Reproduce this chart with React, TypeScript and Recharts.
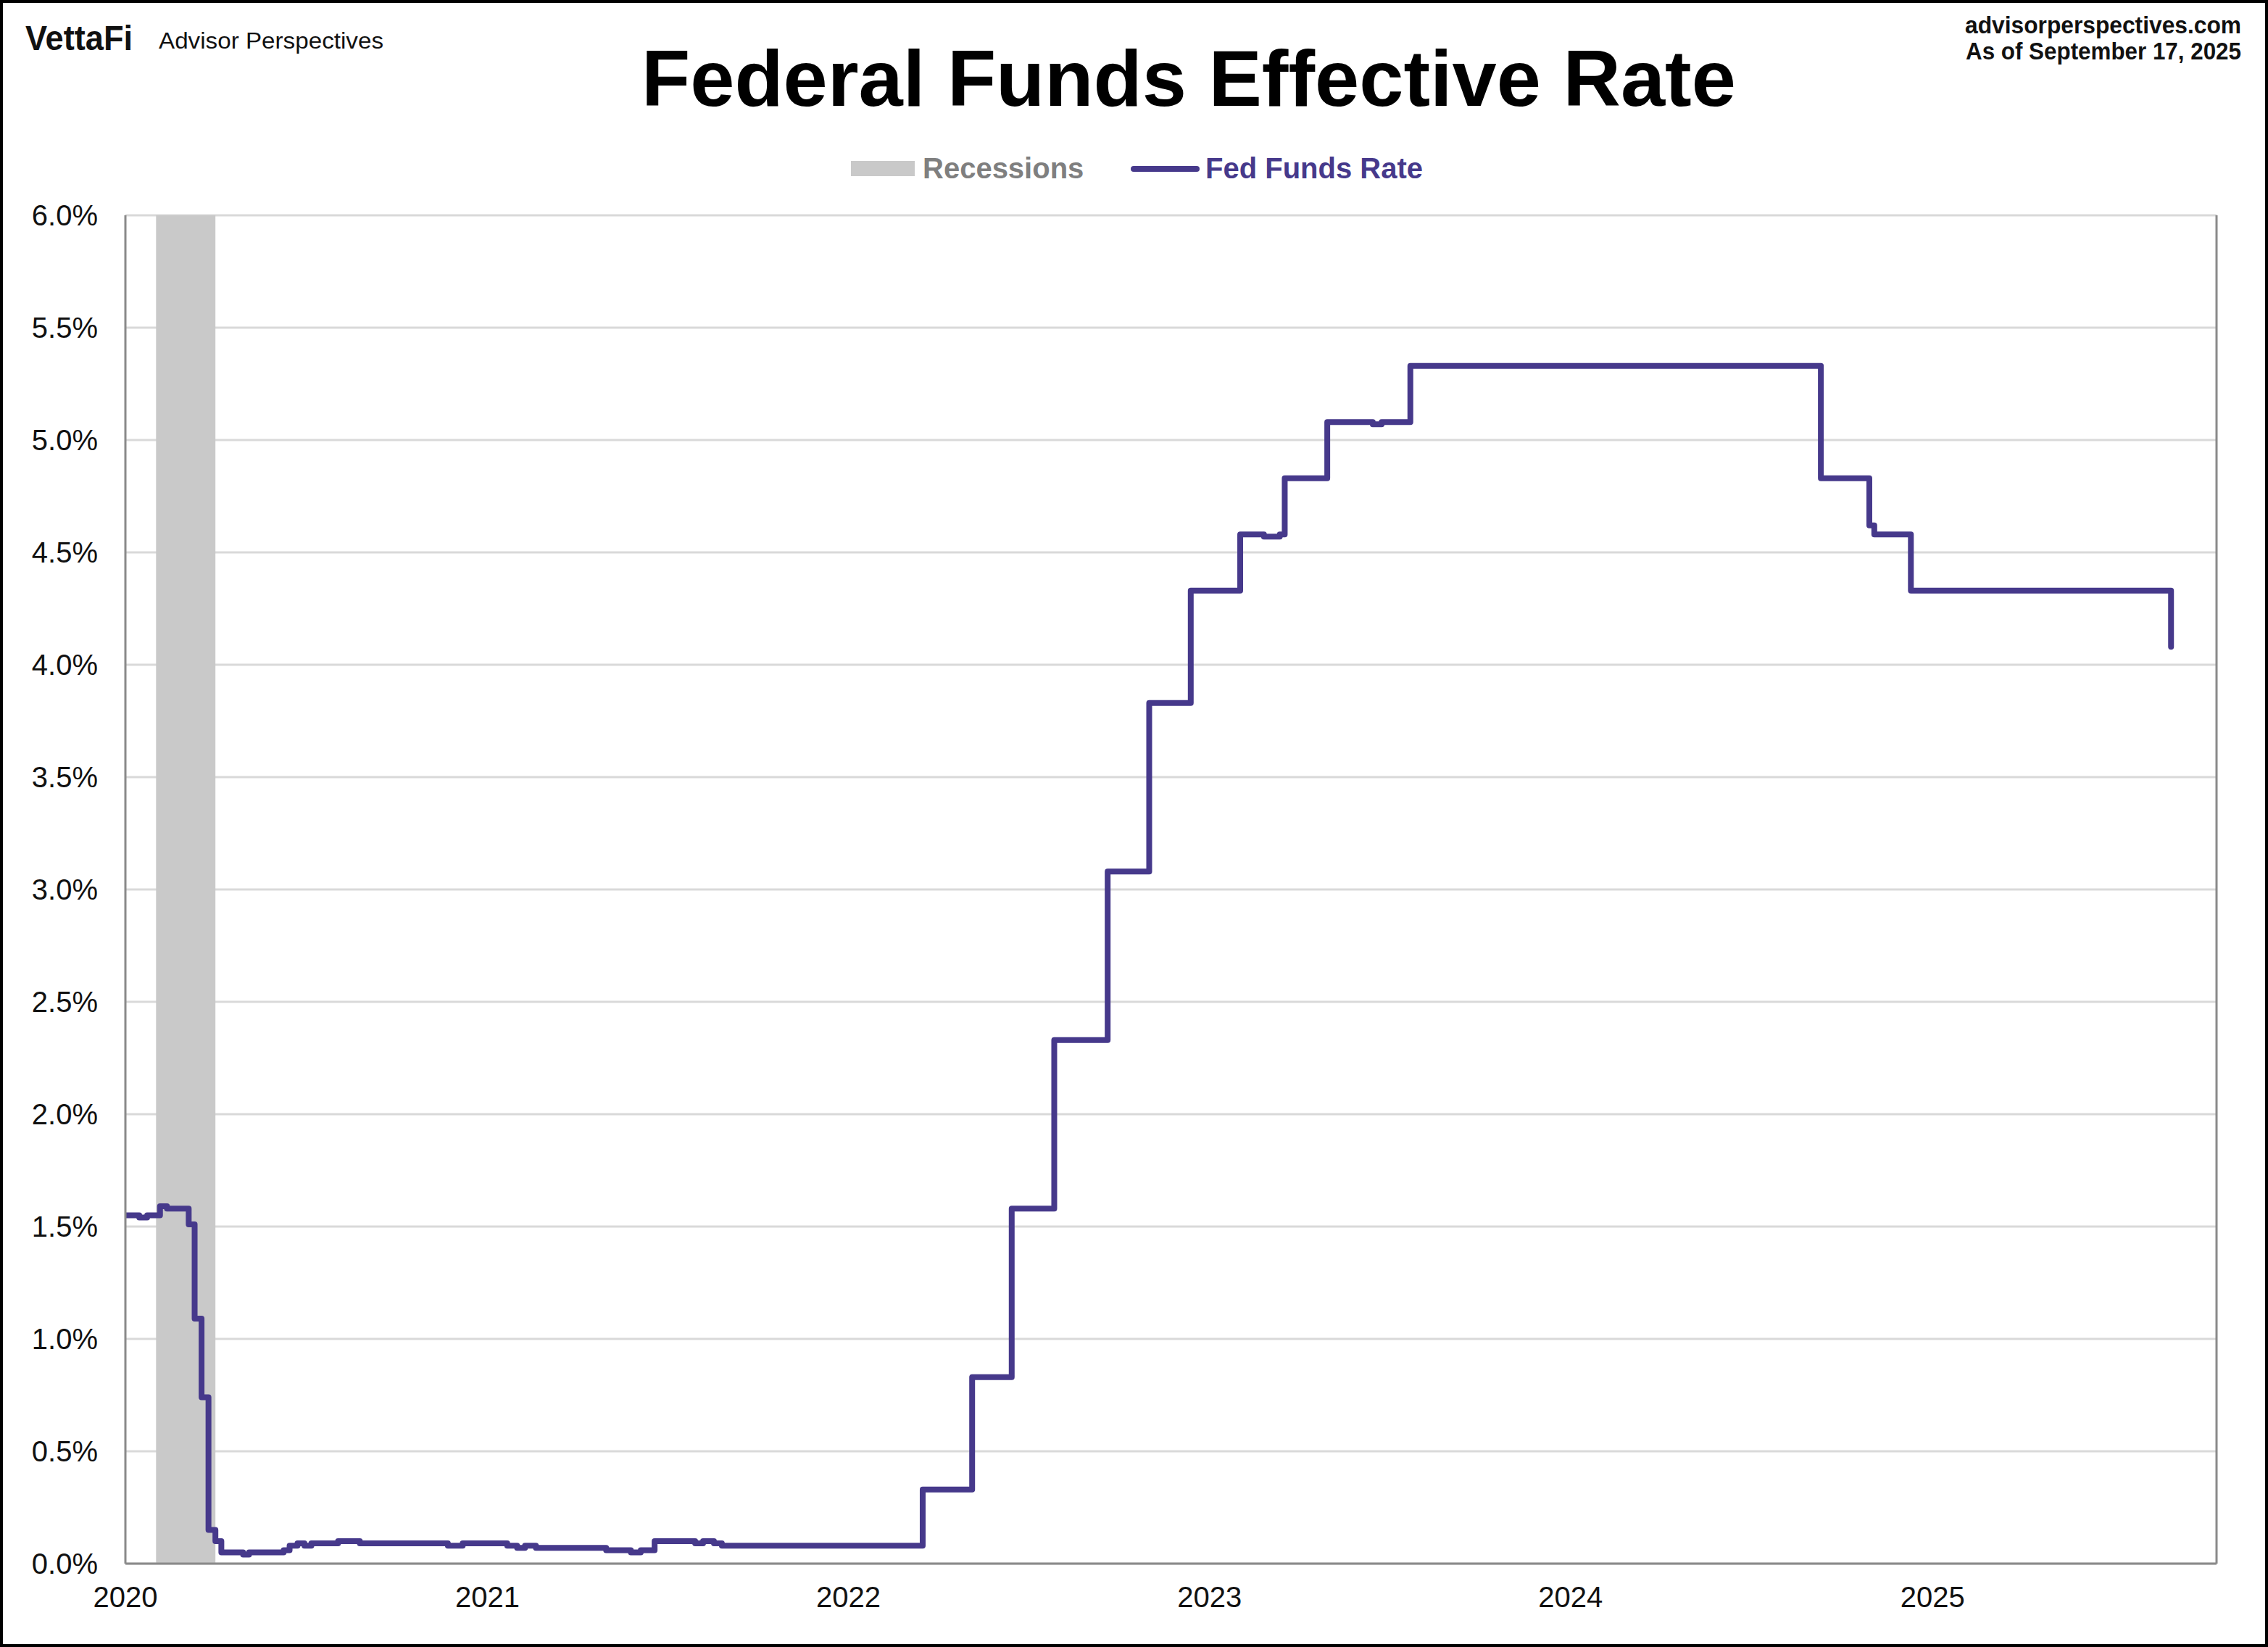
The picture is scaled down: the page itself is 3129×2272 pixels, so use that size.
import React from "react";
import {
  CartesianGrid,
  ComposedChart,
  Line,
  ReferenceArea,
  ReferenceLine,
  XAxis,
  YAxis,
} from "recharts";

const FONT = "'Liberation Sans', Arial, Helvetica, sans-serif";
const PURPLE = "#46398b";
const AXIS_GRAY = "#8a8a8a";
const GRID_GRAY = "#d9d9d9";
const BAND_GRAY = "#c9c9c9";

const WIDTH = 3129;
const HEIGHT = 2272;

// weekly-ish readings of the effective rate, [start date, rate %]
const rates2020: [string, number][] = [
  ["2020-01-01", 1.55],
  ["2020-01-15", 1.54],
  ["2020-01-23", 1.55],
  ["2020-02-05", 1.59],
  ["2020-02-12", 1.58],
  ["2020-03-05", 1.51],
  ["2020-03-11", 1.09],
  ["2020-03-18", 0.74],
  ["2020-03-25", 0.15],
  ["2020-04-01", 0.1],
  ["2020-04-07", 0.05],
  ["2020-04-29", 0.04],
  ["2020-05-05", 0.05],
  ["2020-06-09", 0.06],
  ["2020-06-15", 0.08],
  ["2020-06-23", 0.09],
  ["2020-06-30", 0.08],
  ["2020-07-07", 0.09],
  ["2020-08-03", 0.1],
  ["2020-08-25", 0.09],
  ["2020-11-22", 0.08],
  ["2020-12-07", 0.09],
];

const rates2021: [string, number][] = [
  ["2021-01-21", 0.08],
  ["2021-01-31", 0.07],
  ["2021-02-08", 0.08],
  ["2021-02-19", 0.07],
  ["2021-05-01", 0.06],
  ["2021-05-26", 0.05],
  ["2021-06-05", 0.06],
  ["2021-06-19", 0.1],
  ["2021-07-30", 0.09],
  ["2021-08-07", 0.1],
  ["2021-08-18", 0.09],
  ["2021-08-26", 0.08],
];

const rates2022: [string, number][] = [
  ["2022-03-17", 0.33],
  ["2022-05-06", 0.83],
  ["2022-06-15", 1.58],
  ["2022-07-28", 2.33],
  ["2022-09-20", 3.08],
  ["2022-11-01", 3.83],
  ["2022-12-13", 4.33],
];

const rates2023: [string, number][] = [
  ["2023-02-01", 4.58],
  ["2023-02-25", 4.57],
  ["2023-03-13", 4.58],
  ["2023-03-18", 4.83],
  ["2023-04-30", 5.08],
  ["2023-06-15", 5.07],
  ["2023-06-24", 5.08],
  ["2023-07-23", 5.33],
];

const rates2024: [string, number][] = [
  ["2024-09-10", 4.83],
  ["2024-10-29", 4.62],
  ["2024-11-03", 4.58],
  ["2024-12-10", 4.33],
];

const rates2025: [string, number][] = [["2025-08-30", 4.08]];

const recession = { start: "2020-02-01", end: "2020-04-01" };
const xStart = "2020-01-01";
const xEnd = "2025-10-15";
const yearTicks = ["2020-01-01", "2021-01-01", "2022-01-01", "2023-01-01", "2024-01-01", "2025-01-01"];
const rateTicks = [0, 0.5, 1, 1.5, 2, 2.5, 3, 3.5, 4, 4.5, 5, 5.5, 6];

function ts(date: string) {
  return Date.parse(`${date}T00:00:00Z`);
}

const chartData = [...rates2020, ...rates2021, ...rates2022, ...rates2023, ...rates2024, ...rates2025].map(
  ([date, rate]) => ({ t: ts(date), rate }),
);

function Header() {
  return (
    <svg
      width={WIDTH}
      height={HEIGHT}
      style={{ position: "absolute", left: 0, top: 0, pointerEvents: "none" }}
    >
      <rect x={2} y={2} width={WIDTH - 4} height={HEIGHT - 4} fill="none" stroke="#000" strokeWidth={4} />
      <text x={35} y={69} fontFamily={FONT} fontWeight={700} fontSize={48} textLength={148} lengthAdjust="spacingAndGlyphs" fill="#111">
        VettaFi
      </text>
      <text x={219} y={67} fontFamily={FONT} fontSize={32} textLength={310} lengthAdjust="spacingAndGlyphs" fill="#111">
        Advisor Perspectives
      </text>
      <text x={1640} y={146} textAnchor="middle" fontFamily={FONT} fontWeight={700} fontSize={110} fill="#000">
        Federal Funds Effective Rate
      </text>
      <text x={3092} y={46} textAnchor="end" fontFamily={FONT} fontWeight={700} fontSize={33} textLength={381} lengthAdjust="spacingAndGlyphs" fill="#111">
        advisorperspectives.com
      </text>
      <text x={3092} y={82} textAnchor="end" fontFamily={FONT} fontWeight={700} fontSize={33} textLength={380} lengthAdjust="spacingAndGlyphs" fill="#111">
        As of September 17, 2025
      </text>
      {/* legend */}
      <rect x={1174} y={222} width={88} height={21} fill={BAND_GRAY} />
      <text x={1273} y={246} fontFamily={FONT} fontWeight={700} fontSize={40} fill="#7f7f7f">
        Recessions
      </text>
      <line x1={1564} y1={233} x2={1651} y2={233} stroke={PURPLE} strokeWidth={8} strokeLinecap="round" />
      <text x={1663} y={246} fontFamily={FONT} fontWeight={700} fontSize={40} fill={PURPLE}>
        Fed Funds Rate
      </text>
    </svg>
  );
}

export default function App() {
  return (
    <div style={{ position: "absolute", left: 0, top: 0, width: WIDTH, height: HEIGHT, background: "#fff" }}>
      <ComposedChart
        width={WIDTH}
        height={HEIGHT}
        data={chartData}
        margin={{ top: 297, right: 71, bottom: 55, left: 0 }}
      >
        <CartesianGrid horizontal vertical={false} stroke={GRID_GRAY} strokeWidth={3} />
        <XAxis
          dataKey="t"
          type="number"
          scale="linear"
          domain={[ts(xStart), ts(xEnd)]}
          ticks={yearTicks.map(ts)}
          interval={0}
          allowDataOverflow
          tickFormatter={(v) => String(new Date(v).getUTCFullYear())}
          tickLine={false}
          tickSize={0}
          tickMargin={32}
          height={60}
          axisLine={{ stroke: AXIS_GRAY, strokeWidth: 3 }}
          tick={{ fill: "#111", fontSize: 40, fontFamily: FONT }}
        />
        <YAxis
          type="number"
          domain={[0, 6]}
          ticks={rateTicks}
          interval={0}
          width={173}
          tickFormatter={(v) => `${Number(v).toFixed(1)}%`}
          tickLine={false}
          tickSize={0}
          tickMargin={38}
          axisLine={{ stroke: AXIS_GRAY, strokeWidth: 3 }}
          tick={{ fill: "#111", fontSize: 40, fontFamily: FONT }}
        />
        <ReferenceArea
          x1={ts(recession.start)}
          x2={ts(recession.end)}
          y1={0}
          y2={6}
          fill={BAND_GRAY}
          fillOpacity={1}
          stroke="none"
        />
        <ReferenceLine x={ts(xEnd)} stroke={AXIS_GRAY} strokeWidth={3} />
        <Line
          dataKey="rate"
          type="stepAfter"
          stroke={PURPLE}
          strokeWidth={8}
          strokeLinecap="round"
          strokeLinejoin="round"
          dot={false}
          activeDot={false}
          isAnimationActive={false}
        />
      </ComposedChart>
      <Header />
    </div>
  );
}
